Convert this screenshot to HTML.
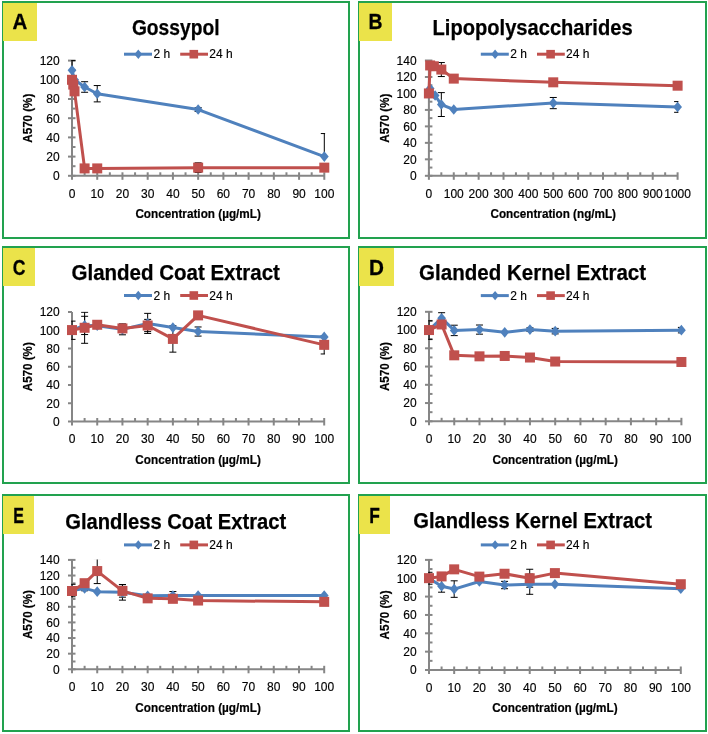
<!DOCTYPE html>
<html><head><meta charset="utf-8"><title>Figure</title>
<style>
html,body{margin:0;padding:0;background:#fff;}
body{width:708px;height:734px;overflow:hidden;}
svg{display:block;font-family:"Liberation Sans", sans-serif;will-change:transform;}
</style></head>
<body>
<svg width="708" height="734" viewBox="0 0 708 734">
<rect width="708" height="734" fill="#fff"/>
<rect x="3" y="2" width="346" height="236" fill="none" stroke="#22a24f" stroke-width="2"/>
<g stroke="#868686" stroke-width="2" fill="none"><path d="M72 60.6V175.8" /><path d="M72 175.8H324.3" /><path d="M68 175.8H75.5"/><path d="M68 156.6H75.5"/><path d="M68 137.4H75.5"/><path d="M68 118.2H75.5"/><path d="M68 99H75.5"/><path d="M68 79.8H75.5"/><path d="M68 60.6H75.5"/><path d="M72 166.2H75.5"/><path d="M72 147H75.5"/><path d="M72 127.8H75.5"/><path d="M72 108.6H75.5"/><path d="M72 89.4H75.5"/><path d="M72 70.2H75.5"/><path d="M72 172.3V179.8"/><path d="M97.23 172.3V179.8"/><path d="M122.46 172.3V179.8"/><path d="M147.69 172.3V179.8"/><path d="M172.92 172.3V179.8"/><path d="M198.15 172.3V179.8"/><path d="M223.38 172.3V179.8"/><path d="M248.61 172.3V179.8"/><path d="M273.84 172.3V179.8"/><path d="M299.07 172.3V179.8"/><path d="M324.3 172.3V179.8"/><path d="M84.61 172.3V175.8"/><path d="M109.84 172.3V175.8"/><path d="M135.07 172.3V175.8"/><path d="M160.31 172.3V175.8"/><path d="M185.54 172.3V175.8"/><path d="M210.77 172.3V175.8"/><path d="M236 172.3V175.8"/><path d="M261.23 172.3V175.8"/><path d="M286.46 172.3V175.8"/><path d="M311.69 172.3V175.8"/></g>
<g font-size="12" fill="#000" stroke="#000" stroke-width="0.15"><text x="59.7" y="180.1" text-anchor="end">0</text><text x="59.7" y="160.9" text-anchor="end">20</text><text x="59.7" y="141.7" text-anchor="end">40</text><text x="59.7" y="122.5" text-anchor="end">60</text><text x="59.7" y="103.3" text-anchor="end">80</text><text x="59.7" y="84.1" text-anchor="end">100</text><text x="59.7" y="64.9" text-anchor="end">120</text><text x="72" y="197.7" text-anchor="middle">0</text><text x="97.23" y="197.7" text-anchor="middle">10</text><text x="122.46" y="197.7" text-anchor="middle">20</text><text x="147.69" y="197.7" text-anchor="middle">30</text><text x="172.92" y="197.7" text-anchor="middle">40</text><text x="198.15" y="197.7" text-anchor="middle">50</text><text x="223.38" y="197.7" text-anchor="middle">60</text><text x="248.61" y="197.7" text-anchor="middle">70</text><text x="273.84" y="197.7" text-anchor="middle">80</text><text x="299.07" y="197.7" text-anchor="middle">90</text><text x="324.3" y="197.7" text-anchor="middle">100</text></g>
<text transform="translate(31.8 118.2) rotate(-90)" text-anchor="middle" font-weight="bold" font-size="12" stroke="#000" stroke-width="0.2" textLength="49" lengthAdjust="spacingAndGlyphs">A570 (%)</text>
<text x="198.15" y="218.2" text-anchor="middle" font-weight="bold" font-size="12.5" stroke="#000" stroke-width="0.2" textLength="125.5" lengthAdjust="spacingAndGlyphs">Concentration (µg/mL)</text>
<clipPath id="clipA"><rect x="71.2" y="60.1" width="253.9" height="115.7"/></clipPath>
<g stroke="#000" stroke-width="1" fill="none" clip-path="url(#clipA)"><path d="M72 60.6V79.8 M68.5 60.6H75.5 M68.5 79.8H75.5"/><path d="M84.61 81.72V92.28 M81.11 81.72H88.11 M81.11 92.28H88.11"/><path d="M97.23 85.56V101.88 M93.73 85.56H100.73 M93.73 101.88H100.73"/><path d="M198.15 107.64V111.48 M194.65 107.64H201.65 M194.65 111.48H201.65"/><path d="M324.3 133.56V156.6 M320.8 133.56H327.8"/><path d="M198.15 162.84V172.44 M194.65 162.84H201.65 M194.65 172.44H201.65"/></g>
<polyline points="72,70.2 74.52,79.8 84.61,87 97.23,93.72 198.15,109.56 324.3,156.6" fill="none" stroke="#4f81bd" stroke-width="3" stroke-linejoin="round"/>
<path d="M72 64.9L76.4 70.2L72 75.5L67.6 70.2Z" fill="#4f81bd"/>
<path d="M74.52 74.5L78.92 79.8L74.52 85.1L70.12 79.8Z" fill="#4f81bd"/>
<path d="M84.61 81.7L89.02 87L84.61 92.3L80.21 87Z" fill="#4f81bd"/>
<path d="M97.23 88.42L101.63 93.72L97.23 99.02L92.83 93.72Z" fill="#4f81bd"/>
<path d="M198.15 104.26L202.55 109.56L198.15 114.86L193.75 109.56Z" fill="#4f81bd"/>
<path d="M324.3 151.3L328.7 156.6L324.3 161.9L319.9 156.6Z" fill="#4f81bd"/>
<polyline points="72,79.8 73.26,84.6 74.52,91.32 84.61,168.41 97.23,168.41 198.15,167.64 324.3,167.64" fill="none" stroke="#c0504d" stroke-width="3" stroke-linejoin="round"/>
<rect x="67" y="74.8" width="10" height="10" fill="#c0504d"/>
<rect x="68.26" y="79.6" width="10" height="10" fill="#c0504d"/>
<rect x="69.52" y="86.32" width="10" height="10" fill="#c0504d"/>
<rect x="79.61" y="163.41" width="10" height="10" fill="#c0504d"/>
<rect x="92.23" y="163.41" width="10" height="10" fill="#c0504d"/>
<rect x="193.15" y="162.64" width="10" height="10" fill="#c0504d"/>
<rect x="319.3" y="162.64" width="10" height="10" fill="#c0504d"/>
<path d="M124 54.2H152" stroke="#4f81bd" stroke-width="3"/>
<path d="M138.3 49.5L142.2 54.2L138.3 58.9L134.4 54.2Z" fill="#4f81bd"/>
<text x="153.5" y="58.4" font-size="12" stroke="#000" stroke-width="0.15">2 h</text>
<path d="M180.2 54.2H208" stroke="#c0504d" stroke-width="3"/>
<rect x="189.5" y="49.9" width="8.6" height="8.6" fill="#c0504d"/>
<text x="209.3" y="58.4" font-size="12" stroke="#000" stroke-width="0.15">24 h</text>
<text x="175.7" y="34.6" text-anchor="middle" font-weight="bold" font-size="22" stroke="#000" stroke-width="0.25" textLength="87.6" lengthAdjust="spacingAndGlyphs">Gossypol</text>
<rect x="3" y="3" width="34" height="38" fill="#ebe34a"/>
<text transform="translate(20 29) scale(0.93 1)" text-anchor="middle" font-weight="bold" font-size="22" stroke="#000" stroke-width="0.3">A</text>
<rect x="359" y="2" width="347" height="236" fill="none" stroke="#22a24f" stroke-width="2"/>
<g stroke="#868686" stroke-width="2" fill="none"><path d="M428.9 60.5V175.8" /><path d="M428.9 175.8H677.6" /><path d="M424.9 175.8H432.4"/><path d="M424.9 159.33H432.4"/><path d="M424.9 142.86H432.4"/><path d="M424.9 126.39H432.4"/><path d="M424.9 109.91H432.4"/><path d="M424.9 93.44H432.4"/><path d="M424.9 76.97H432.4"/><path d="M424.9 60.5H432.4"/><path d="M428.9 167.56H432.4"/><path d="M428.9 151.09H432.4"/><path d="M428.9 134.62H432.4"/><path d="M428.9 118.15H432.4"/><path d="M428.9 101.68H432.4"/><path d="M428.9 85.21H432.4"/><path d="M428.9 68.74H432.4"/><path d="M428.9 172.3V179.8"/><path d="M453.77 172.3V179.8"/><path d="M478.64 172.3V179.8"/><path d="M503.51 172.3V179.8"/><path d="M528.38 172.3V179.8"/><path d="M553.25 172.3V179.8"/><path d="M578.12 172.3V179.8"/><path d="M602.99 172.3V179.8"/><path d="M627.86 172.3V179.8"/><path d="M652.73 172.3V179.8"/><path d="M677.6 172.3V179.8"/><path d="M441.33 172.3V175.8"/><path d="M466.2 172.3V175.8"/><path d="M491.07 172.3V175.8"/><path d="M515.94 172.3V175.8"/><path d="M540.82 172.3V175.8"/><path d="M565.68 172.3V175.8"/><path d="M590.56 172.3V175.8"/><path d="M615.42 172.3V175.8"/><path d="M640.3 172.3V175.8"/><path d="M665.16 172.3V175.8"/></g>
<g font-size="12" fill="#000" stroke="#000" stroke-width="0.15"><text x="416.6" y="180.1" text-anchor="end">0</text><text x="416.6" y="163.63" text-anchor="end">20</text><text x="416.6" y="147.16" text-anchor="end">40</text><text x="416.6" y="130.69" text-anchor="end">60</text><text x="416.6" y="114.21" text-anchor="end">80</text><text x="416.6" y="97.74" text-anchor="end">100</text><text x="416.6" y="81.27" text-anchor="end">120</text><text x="416.6" y="64.8" text-anchor="end">140</text><text x="428.9" y="197.7" text-anchor="middle">0</text><text x="453.77" y="197.7" text-anchor="middle">100</text><text x="478.64" y="197.7" text-anchor="middle">200</text><text x="503.51" y="197.7" text-anchor="middle">300</text><text x="528.38" y="197.7" text-anchor="middle">400</text><text x="553.25" y="197.7" text-anchor="middle">500</text><text x="578.12" y="197.7" text-anchor="middle">600</text><text x="602.99" y="197.7" text-anchor="middle">700</text><text x="627.86" y="197.7" text-anchor="middle">800</text><text x="652.73" y="197.7" text-anchor="middle">900</text><text x="677.6" y="197.7" text-anchor="middle">1000</text></g>
<text transform="translate(388.7 118.15) rotate(-90)" text-anchor="middle" font-weight="bold" font-size="12" stroke="#000" stroke-width="0.2" textLength="49" lengthAdjust="spacingAndGlyphs">A570 (%)</text>
<text x="553.25" y="218.2" text-anchor="middle" font-weight="bold" font-size="12.5" stroke="#000" stroke-width="0.2" textLength="125.5" lengthAdjust="spacingAndGlyphs">Concentration (ng/mL)</text>
<clipPath id="clipB"><rect x="428.1" y="60" width="250.3" height="115.8"/></clipPath>
<g stroke="#000" stroke-width="1" fill="none" clip-path="url(#clipB)"><path d="M441.33 92.62V116.5 M437.83 92.62H444.83 M437.83 116.5H444.83"/><path d="M553.25 97.48V108.68 M549.75 97.48H556.75 M549.75 108.68H556.75"/><path d="M677.6 101.6V112.3 M674.1 101.6H681.1 M674.1 112.3H681.1"/><path d="M441.33 62.56V76.56 M437.83 62.56H444.83 M437.83 76.56H444.83"/><path d="M553.25 79.85V84.8 M549.75 79.85H556.75 M549.75 84.8H556.75"/><path d="M677.6 82.41V89 M674.1 82.41H681.1 M674.1 89H681.1"/></g>
<polyline points="428.9,93.44 430.14,88.5 435.12,95.5 441.33,104.56 453.77,109.5 553.25,103.08 677.6,106.95" fill="none" stroke="#4f81bd" stroke-width="3" stroke-linejoin="round"/>
<path d="M428.9 88.14L433.3 93.44L428.9 98.74L424.5 93.44Z" fill="#4f81bd"/>
<path d="M430.14 83.2L434.54 88.5L430.14 93.8L425.74 88.5Z" fill="#4f81bd"/>
<path d="M435.12 90.2L439.52 95.5L435.12 100.8L430.72 95.5Z" fill="#4f81bd"/>
<path d="M441.33 99.26L445.73 104.56L441.33 109.86L436.94 104.56Z" fill="#4f81bd"/>
<path d="M453.77 104.2L458.17 109.5L453.77 114.8L449.37 109.5Z" fill="#4f81bd"/>
<path d="M553.25 97.78L557.65 103.08L553.25 108.38L548.85 103.08Z" fill="#4f81bd"/>
<path d="M677.6 101.65L682 106.95L677.6 112.25L673.2 106.95Z" fill="#4f81bd"/>
<polyline points="428.9,93.44 430.14,65.44 433.87,66.27 441.33,69.56 453.77,78.62 553.25,82.32 677.6,85.7" fill="none" stroke="#c0504d" stroke-width="3" stroke-linejoin="round"/>
<rect x="423.9" y="88.44" width="10" height="10" fill="#c0504d"/>
<rect x="425.14" y="60.44" width="10" height="10" fill="#c0504d"/>
<rect x="428.87" y="61.27" width="10" height="10" fill="#c0504d"/>
<rect x="436.33" y="64.56" width="10" height="10" fill="#c0504d"/>
<rect x="448.77" y="73.62" width="10" height="10" fill="#c0504d"/>
<rect x="548.25" y="77.32" width="10" height="10" fill="#c0504d"/>
<rect x="672.6" y="80.7" width="10" height="10" fill="#c0504d"/>
<path d="M480.8 54.2H508.8" stroke="#4f81bd" stroke-width="3"/>
<path d="M495.1 49.5L499 54.2L495.1 58.9L491.2 54.2Z" fill="#4f81bd"/>
<text x="510.3" y="58.4" font-size="12" stroke="#000" stroke-width="0.15">2 h</text>
<path d="M537 54.2H564.8" stroke="#c0504d" stroke-width="3"/>
<rect x="546.3" y="49.9" width="8.6" height="8.6" fill="#c0504d"/>
<text x="566.1" y="58.4" font-size="12" stroke="#000" stroke-width="0.15">24 h</text>
<text x="532.6" y="34.9" text-anchor="middle" font-weight="bold" font-size="22" stroke="#000" stroke-width="0.25" textLength="200" lengthAdjust="spacingAndGlyphs">Lipopolysaccharides</text>
<rect x="359" y="3" width="33" height="38" fill="#ebe34a"/>
<text transform="translate(375.5 29) scale(0.88 1)" text-anchor="middle" font-weight="bold" font-size="22" stroke="#000" stroke-width="0.3">B</text>
<rect x="3" y="247" width="346" height="236" fill="none" stroke="#22a24f" stroke-width="2"/>
<g stroke="#868686" stroke-width="2" fill="none"><path d="M72 312V421.5" /><path d="M72 421.5H324.2" /><path d="M68 421.5H72"/><path d="M68 403.25H72"/><path d="M68 385H72"/><path d="M68 366.75H72"/><path d="M68 348.5H72"/><path d="M68 330.25H72"/><path d="M68 312H72"/><path d="M72 418V425.5"/><path d="M97.22 418V425.5"/><path d="M122.44 418V425.5"/><path d="M147.66 418V425.5"/><path d="M172.88 418V425.5"/><path d="M198.1 418V425.5"/><path d="M223.32 418V425.5"/><path d="M248.54 418V425.5"/><path d="M273.76 418V425.5"/><path d="M298.98 418V425.5"/><path d="M324.2 418V425.5"/><path d="M84.61 418V421.5"/><path d="M109.83 418V421.5"/><path d="M135.05 418V421.5"/><path d="M160.27 418V421.5"/><path d="M185.49 418V421.5"/><path d="M210.71 418V421.5"/><path d="M235.93 418V421.5"/><path d="M261.15 418V421.5"/><path d="M286.37 418V421.5"/><path d="M311.59 418V421.5"/></g>
<g font-size="12" fill="#000" stroke="#000" stroke-width="0.15"><text x="59.7" y="425.8" text-anchor="end">0</text><text x="59.7" y="407.55" text-anchor="end">20</text><text x="59.7" y="389.3" text-anchor="end">40</text><text x="59.7" y="371.05" text-anchor="end">60</text><text x="59.7" y="352.8" text-anchor="end">80</text><text x="59.7" y="334.55" text-anchor="end">100</text><text x="59.7" y="316.3" text-anchor="end">120</text><text x="72" y="443.4" text-anchor="middle">0</text><text x="97.22" y="443.4" text-anchor="middle">10</text><text x="122.44" y="443.4" text-anchor="middle">20</text><text x="147.66" y="443.4" text-anchor="middle">30</text><text x="172.88" y="443.4" text-anchor="middle">40</text><text x="198.1" y="443.4" text-anchor="middle">50</text><text x="223.32" y="443.4" text-anchor="middle">60</text><text x="248.54" y="443.4" text-anchor="middle">70</text><text x="273.76" y="443.4" text-anchor="middle">80</text><text x="298.98" y="443.4" text-anchor="middle">90</text><text x="324.2" y="443.4" text-anchor="middle">100</text></g>
<text transform="translate(31.8 366.75) rotate(-90)" text-anchor="middle" font-weight="bold" font-size="12" stroke="#000" stroke-width="0.2" textLength="49" lengthAdjust="spacingAndGlyphs">A570 (%)</text>
<text x="198.1" y="463.9" text-anchor="middle" font-weight="bold" font-size="12.5" stroke="#000" stroke-width="0.2" textLength="125.5" lengthAdjust="spacingAndGlyphs">Concentration (µg/mL)</text>
<clipPath id="clipC"><rect x="71.2" y="311.5" width="253.8" height="110"/></clipPath>
<g stroke="#000" stroke-width="1" fill="none" clip-path="url(#clipC)"><path d="M72 321.12V339.38 M68.5 321.12H75.5 M68.5 339.38H75.5"/><path d="M84.61 316.29V334.54 M81.11 316.29H88.11 M81.11 334.54H88.11"/><path d="M122.44 323.86V334.81 M118.94 323.86H125.94 M118.94 334.81H125.94"/><path d="M147.66 313.37V333.44 M144.16 313.37H151.16 M144.16 333.44H151.16"/><path d="M198.1 326.97V336.09 M194.6 326.97H201.6 M194.6 336.09H201.6"/><path d="M84.61 312.27V343.3 M81.11 312.27H88.11 M81.11 343.3H88.11"/><path d="M147.66 319.39V331.62 M144.16 319.39H151.16 M144.16 331.62H151.16"/><path d="M172.88 325.69V352.15 M169.38 325.69H176.38 M169.38 352.15H176.38"/><path d="M324.2 335.73V353.98 M320.7 335.73H327.7 M320.7 353.98H327.7"/></g>
<polyline points="72,330.25 84.61,325.41 97.22,325.69 122.44,329.34 147.66,323.41 172.88,327.6 198.1,331.53 324.2,336.91" fill="none" stroke="#4f81bd" stroke-width="3" stroke-linejoin="round"/>
<path d="M72 324.95L76.4 330.25L72 335.55L67.6 330.25Z" fill="#4f81bd"/>
<path d="M84.61 320.11L89.01 325.41L84.61 330.71L80.21 325.41Z" fill="#4f81bd"/>
<path d="M97.22 320.39L101.62 325.69L97.22 330.99L92.82 325.69Z" fill="#4f81bd"/>
<path d="M122.44 324.04L126.84 329.34L122.44 334.64L118.04 329.34Z" fill="#4f81bd"/>
<path d="M147.66 318.11L152.06 323.41L147.66 328.71L143.26 323.41Z" fill="#4f81bd"/>
<path d="M172.88 322.3L177.28 327.6L172.88 332.9L168.48 327.6Z" fill="#4f81bd"/>
<path d="M198.1 326.23L202.5 331.53L198.1 336.83L193.7 331.53Z" fill="#4f81bd"/>
<path d="M324.2 331.61L328.6 336.91L324.2 342.21L319.8 336.91Z" fill="#4f81bd"/>
<polyline points="72,330.07 84.61,327.79 97.22,324.77 122.44,328.43 147.66,325.5 172.88,338.92 198.1,315.38 324.2,344.85" fill="none" stroke="#c0504d" stroke-width="3" stroke-linejoin="round"/>
<rect x="67" y="325.07" width="10" height="10" fill="#c0504d"/>
<rect x="79.61" y="322.79" width="10" height="10" fill="#c0504d"/>
<rect x="92.22" y="319.77" width="10" height="10" fill="#c0504d"/>
<rect x="117.44" y="323.43" width="10" height="10" fill="#c0504d"/>
<rect x="142.66" y="320.5" width="10" height="10" fill="#c0504d"/>
<rect x="167.88" y="333.92" width="10" height="10" fill="#c0504d"/>
<rect x="193.1" y="310.38" width="10" height="10" fill="#c0504d"/>
<rect x="319.2" y="339.85" width="10" height="10" fill="#c0504d"/>
<path d="M124 295.5H152" stroke="#4f81bd" stroke-width="3"/>
<path d="M138.3 290.8L142.2 295.5L138.3 300.2L134.4 295.5Z" fill="#4f81bd"/>
<text x="153.5" y="299.7" font-size="12" stroke="#000" stroke-width="0.15">2 h</text>
<path d="M180.2 295.5H208" stroke="#c0504d" stroke-width="3"/>
<rect x="189.5" y="291.2" width="8.6" height="8.6" fill="#c0504d"/>
<text x="209.3" y="299.7" font-size="12" stroke="#000" stroke-width="0.15">24 h</text>
<text x="175.7" y="279.8" text-anchor="middle" font-weight="bold" font-size="22" stroke="#000" stroke-width="0.25" textLength="208.4" lengthAdjust="spacingAndGlyphs">Glanded Coat Extract</text>
<rect x="3" y="248" width="32" height="38" fill="#ebe34a"/>
<text transform="translate(19 274.5) scale(0.8 1)" text-anchor="middle" font-weight="bold" font-size="22" stroke="#000" stroke-width="0.3">C</text>
<rect x="359" y="247" width="347" height="236" fill="none" stroke="#22a24f" stroke-width="2"/>
<g stroke="#868686" stroke-width="2" fill="none"><path d="M429 311.8V421.3" /><path d="M429 421.3H681.4" /><path d="M425 421.3H432.5"/><path d="M425 403.05H432.5"/><path d="M425 384.8H432.5"/><path d="M425 366.55H432.5"/><path d="M425 348.3H432.5"/><path d="M425 330.05H432.5"/><path d="M425 311.8H432.5"/><path d="M429 412.18H432.5"/><path d="M429 393.93H432.5"/><path d="M429 375.68H432.5"/><path d="M429 357.43H432.5"/><path d="M429 339.18H432.5"/><path d="M429 320.93H432.5"/><path d="M429 417.8V425.3"/><path d="M454.24 417.8V425.3"/><path d="M479.48 417.8V425.3"/><path d="M504.72 417.8V425.3"/><path d="M529.96 417.8V425.3"/><path d="M555.2 417.8V425.3"/><path d="M580.44 417.8V425.3"/><path d="M605.68 417.8V425.3"/><path d="M630.92 417.8V425.3"/><path d="M656.16 417.8V425.3"/><path d="M681.4 417.8V425.3"/><path d="M441.62 417.8V421.3"/><path d="M466.86 417.8V421.3"/><path d="M492.1 417.8V421.3"/><path d="M517.34 417.8V421.3"/><path d="M542.58 417.8V421.3"/><path d="M567.82 417.8V421.3"/><path d="M593.06 417.8V421.3"/><path d="M618.3 417.8V421.3"/><path d="M643.54 417.8V421.3"/><path d="M668.78 417.8V421.3"/></g>
<g font-size="12" fill="#000" stroke="#000" stroke-width="0.15"><text x="416.7" y="425.6" text-anchor="end">0</text><text x="416.7" y="407.35" text-anchor="end">20</text><text x="416.7" y="389.1" text-anchor="end">40</text><text x="416.7" y="370.85" text-anchor="end">60</text><text x="416.7" y="352.6" text-anchor="end">80</text><text x="416.7" y="334.35" text-anchor="end">100</text><text x="416.7" y="316.1" text-anchor="end">120</text><text x="429" y="443.2" text-anchor="middle">0</text><text x="454.24" y="443.2" text-anchor="middle">10</text><text x="479.48" y="443.2" text-anchor="middle">20</text><text x="504.72" y="443.2" text-anchor="middle">30</text><text x="529.96" y="443.2" text-anchor="middle">40</text><text x="555.2" y="443.2" text-anchor="middle">50</text><text x="580.44" y="443.2" text-anchor="middle">60</text><text x="605.68" y="443.2" text-anchor="middle">70</text><text x="630.92" y="443.2" text-anchor="middle">80</text><text x="656.16" y="443.2" text-anchor="middle">90</text><text x="681.4" y="443.2" text-anchor="middle">100</text></g>
<text transform="translate(388.8 366.55) rotate(-90)" text-anchor="middle" font-weight="bold" font-size="12" stroke="#000" stroke-width="0.2" textLength="49" lengthAdjust="spacingAndGlyphs">A570 (%)</text>
<text x="555.2" y="463.7" text-anchor="middle" font-weight="bold" font-size="12.5" stroke="#000" stroke-width="0.2" textLength="125.5" lengthAdjust="spacingAndGlyphs">Concentration (µg/mL)</text>
<clipPath id="clipD"><rect x="428.2" y="311.3" width="254" height="110"/></clipPath>
<g stroke="#000" stroke-width="1" fill="none" clip-path="url(#clipD)"><path d="M429 320.74V339.36 M425.5 320.74H432.5 M425.5 339.36H432.5"/><path d="M441.62 312.71V323.66 M438.12 312.71H445.12 M438.12 323.66H445.12"/><path d="M454.24 325.21V335.62 M450.74 325.21H457.74 M450.74 335.62H457.74"/><path d="M479.48 325.03V334.16 M475.98 325.03H482.98 M475.98 334.16H482.98"/><path d="M529.96 327.77V331.42 M526.46 327.77H533.46 M526.46 331.42H533.46"/><path d="M555.2 328.41V333.88 M551.7 328.41H558.7 M551.7 333.88H558.7"/><path d="M681.4 327.4V332.88 M677.9 327.4H684.9 M677.9 332.88H684.9"/></g>
<polyline points="429,330.05 441.62,318.19 454.24,330.42 479.48,329.59 504.72,332.33 529.96,329.59 555.2,331.14 681.4,330.14" fill="none" stroke="#4f81bd" stroke-width="3" stroke-linejoin="round"/>
<path d="M429 324.75L433.4 330.05L429 335.35L424.6 330.05Z" fill="#4f81bd"/>
<path d="M441.62 312.89L446.02 318.19L441.62 323.49L437.22 318.19Z" fill="#4f81bd"/>
<path d="M454.24 325.12L458.64 330.42L454.24 335.72L449.84 330.42Z" fill="#4f81bd"/>
<path d="M479.48 324.29L483.88 329.59L479.48 334.89L475.08 329.59Z" fill="#4f81bd"/>
<path d="M504.72 327.03L509.12 332.33L504.72 337.63L500.32 332.33Z" fill="#4f81bd"/>
<path d="M529.96 324.29L534.36 329.59L529.96 334.89L525.56 329.59Z" fill="#4f81bd"/>
<path d="M555.2 325.84L559.6 331.14L555.2 336.44L550.8 331.14Z" fill="#4f81bd"/>
<path d="M681.4 324.84L685.8 330.14L681.4 335.44L677 330.14Z" fill="#4f81bd"/>
<polyline points="429,330.05 441.62,324.48 454.24,355.33 479.48,356.33 504.72,355.97 529.96,357.52 555.2,361.53 681.4,361.99" fill="none" stroke="#c0504d" stroke-width="3" stroke-linejoin="round"/>
<rect x="424" y="325.05" width="10" height="10" fill="#c0504d"/>
<rect x="436.62" y="319.48" width="10" height="10" fill="#c0504d"/>
<rect x="449.24" y="350.33" width="10" height="10" fill="#c0504d"/>
<rect x="474.48" y="351.33" width="10" height="10" fill="#c0504d"/>
<rect x="499.72" y="350.97" width="10" height="10" fill="#c0504d"/>
<rect x="524.96" y="352.52" width="10" height="10" fill="#c0504d"/>
<rect x="550.2" y="356.53" width="10" height="10" fill="#c0504d"/>
<rect x="676.4" y="356.99" width="10" height="10" fill="#c0504d"/>
<path d="M480.8 295.6H508.8" stroke="#4f81bd" stroke-width="3"/>
<path d="M495.1 290.9L499 295.6L495.1 300.3L491.2 295.6Z" fill="#4f81bd"/>
<text x="510.3" y="299.8" font-size="12" stroke="#000" stroke-width="0.15">2 h</text>
<path d="M537 295.6H564.8" stroke="#c0504d" stroke-width="3"/>
<rect x="546.3" y="291.3" width="8.6" height="8.6" fill="#c0504d"/>
<text x="566.1" y="299.8" font-size="12" stroke="#000" stroke-width="0.15">24 h</text>
<text x="532.6" y="279.7" text-anchor="middle" font-weight="bold" font-size="22" stroke="#000" stroke-width="0.25" textLength="227" lengthAdjust="spacingAndGlyphs">Glanded Kernel Extract</text>
<rect x="359" y="248" width="35" height="38" fill="#ebe34a"/>
<text transform="translate(376.5 274.5) scale(0.94 1)" text-anchor="middle" font-weight="bold" font-size="22" stroke="#000" stroke-width="0.3">D</text>
<rect x="3" y="495" width="346" height="236" fill="none" stroke="#22a24f" stroke-width="2"/>
<g stroke="#868686" stroke-width="2" fill="none"><path d="M72 559.9V669.3" /><path d="M72 669.3H324.2" /><path d="M68 669.3H75.5"/><path d="M68 653.67H75.5"/><path d="M68 638.04H75.5"/><path d="M68 622.41H75.5"/><path d="M68 606.79H75.5"/><path d="M68 591.16H75.5"/><path d="M68 575.53H75.5"/><path d="M68 559.9H75.5"/><path d="M72 661.49H75.5"/><path d="M72 645.86H75.5"/><path d="M72 630.23H75.5"/><path d="M72 614.6H75.5"/><path d="M72 598.97H75.5"/><path d="M72 583.34H75.5"/><path d="M72 567.71H75.5"/><path d="M72 665.8V673.3"/><path d="M97.22 665.8V673.3"/><path d="M122.44 665.8V673.3"/><path d="M147.66 665.8V673.3"/><path d="M172.88 665.8V673.3"/><path d="M198.1 665.8V673.3"/><path d="M223.32 665.8V673.3"/><path d="M248.54 665.8V673.3"/><path d="M273.76 665.8V673.3"/><path d="M298.98 665.8V673.3"/><path d="M324.2 665.8V673.3"/><path d="M84.61 665.8V669.3"/><path d="M109.83 665.8V669.3"/><path d="M135.05 665.8V669.3"/><path d="M160.27 665.8V669.3"/><path d="M185.49 665.8V669.3"/><path d="M210.71 665.8V669.3"/><path d="M235.93 665.8V669.3"/><path d="M261.15 665.8V669.3"/><path d="M286.37 665.8V669.3"/><path d="M311.59 665.8V669.3"/></g>
<g font-size="12" fill="#000" stroke="#000" stroke-width="0.15"><text x="59.7" y="673.6" text-anchor="end">0</text><text x="59.7" y="657.97" text-anchor="end">20</text><text x="59.7" y="642.34" text-anchor="end">40</text><text x="59.7" y="626.71" text-anchor="end">60</text><text x="59.7" y="611.09" text-anchor="end">80</text><text x="59.7" y="595.46" text-anchor="end">100</text><text x="59.7" y="579.83" text-anchor="end">120</text><text x="59.7" y="564.2" text-anchor="end">140</text><text x="72" y="691.2" text-anchor="middle">0</text><text x="97.22" y="691.2" text-anchor="middle">10</text><text x="122.44" y="691.2" text-anchor="middle">20</text><text x="147.66" y="691.2" text-anchor="middle">30</text><text x="172.88" y="691.2" text-anchor="middle">40</text><text x="198.1" y="691.2" text-anchor="middle">50</text><text x="223.32" y="691.2" text-anchor="middle">60</text><text x="248.54" y="691.2" text-anchor="middle">70</text><text x="273.76" y="691.2" text-anchor="middle">80</text><text x="298.98" y="691.2" text-anchor="middle">90</text><text x="324.2" y="691.2" text-anchor="middle">100</text></g>
<text transform="translate(31.8 614.6) rotate(-90)" text-anchor="middle" font-weight="bold" font-size="12" stroke="#000" stroke-width="0.2" textLength="49" lengthAdjust="spacingAndGlyphs">A570 (%)</text>
<text x="198.1" y="711.7" text-anchor="middle" font-weight="bold" font-size="12.5" stroke="#000" stroke-width="0.2" textLength="125.5" lengthAdjust="spacingAndGlyphs">Concentration (µg/mL)</text>
<clipPath id="clipE"><rect x="71.2" y="559.4" width="253.8" height="109.9"/></clipPath>
<g stroke="#000" stroke-width="1" fill="none" clip-path="url(#clipE)"><path d="M72 584.28V596.78 M68.5 584.28H75.5 M68.5 596.78H75.5"/><path d="M84.61 586.08V590.77 M81.11 586.08H88.11 M81.11 590.77H88.11"/><path d="M122.44 584.51V600.14 M118.94 584.51H125.94 M118.94 600.14H125.94"/><path d="M172.88 591.55V599.36 M169.38 591.55H176.38 M169.38 599.36H176.38"/><path d="M97.22 558.57V583.58 M93.72 558.57H100.72 M93.72 583.58H100.72"/><path d="M122.44 584.67V597.17 M118.94 584.67H125.94 M118.94 597.17H125.94"/></g>
<polyline points="72,590.53 84.61,588.42 97.22,591.63 122.44,592.33 147.66,595.85 172.88,595.45 198.1,595.45 324.2,595.45" fill="none" stroke="#4f81bd" stroke-width="3" stroke-linejoin="round"/>
<path d="M72 585.23L76.4 590.53L72 595.83L67.6 590.53Z" fill="#4f81bd"/>
<path d="M84.61 583.12L89.01 588.42L84.61 593.72L80.21 588.42Z" fill="#4f81bd"/>
<path d="M97.22 586.33L101.62 591.63L97.22 596.93L92.82 591.63Z" fill="#4f81bd"/>
<path d="M122.44 587.03L126.84 592.33L122.44 597.63L118.04 592.33Z" fill="#4f81bd"/>
<path d="M147.66 590.55L152.06 595.85L147.66 601.15L143.26 595.85Z" fill="#4f81bd"/>
<path d="M172.88 590.15L177.28 595.45L172.88 600.75L168.48 595.45Z" fill="#4f81bd"/>
<path d="M198.1 590.15L202.5 595.45L198.1 600.75L193.7 595.45Z" fill="#4f81bd"/>
<path d="M324.2 590.15L328.6 595.45L324.2 600.75L319.8 595.45Z" fill="#4f81bd"/>
<polyline points="72,591 84.61,583.19 97.22,571.07 122.44,590.92 147.66,598.35 172.88,598.82 198.1,600.53 324.2,601.86" fill="none" stroke="#c0504d" stroke-width="3" stroke-linejoin="round"/>
<rect x="67" y="586" width="10" height="10" fill="#c0504d"/>
<rect x="79.61" y="578.19" width="10" height="10" fill="#c0504d"/>
<rect x="92.22" y="566.07" width="10" height="10" fill="#c0504d"/>
<rect x="117.44" y="585.92" width="10" height="10" fill="#c0504d"/>
<rect x="142.66" y="593.35" width="10" height="10" fill="#c0504d"/>
<rect x="167.88" y="593.82" width="10" height="10" fill="#c0504d"/>
<rect x="193.1" y="595.53" width="10" height="10" fill="#c0504d"/>
<rect x="319.2" y="596.86" width="10" height="10" fill="#c0504d"/>
<path d="M124 544.9H152" stroke="#4f81bd" stroke-width="3"/>
<path d="M138.3 540.2L142.2 544.9L138.3 549.6L134.4 544.9Z" fill="#4f81bd"/>
<text x="153.5" y="549.1" font-size="12" stroke="#000" stroke-width="0.15">2 h</text>
<path d="M180.2 544.9H208" stroke="#c0504d" stroke-width="3"/>
<rect x="189.5" y="540.6" width="8.6" height="8.6" fill="#c0504d"/>
<text x="209.3" y="549.1" font-size="12" stroke="#000" stroke-width="0.15">24 h</text>
<text x="175.7" y="529" text-anchor="middle" font-weight="bold" font-size="22" stroke="#000" stroke-width="0.25" textLength="221" lengthAdjust="spacingAndGlyphs">Glandless Coat Extract</text>
<rect x="3" y="496" width="31" height="38" fill="#ebe34a"/>
<text transform="translate(18.5 522.5) scale(0.73 1)" text-anchor="middle" font-weight="bold" font-size="22" stroke="#000" stroke-width="0.3">E</text>
<rect x="359" y="495" width="347" height="236" fill="none" stroke="#22a24f" stroke-width="2"/>
<g stroke="#868686" stroke-width="2" fill="none"><path d="M429 559.9V670" /><path d="M429 670H680.8" /><path d="M425 670H432.5"/><path d="M425 651.65H432.5"/><path d="M425 633.3H432.5"/><path d="M425 614.95H432.5"/><path d="M425 596.6H432.5"/><path d="M425 578.25H432.5"/><path d="M425 559.9H432.5"/><path d="M429 660.83H432.5"/><path d="M429 642.48H432.5"/><path d="M429 624.12H432.5"/><path d="M429 605.77H432.5"/><path d="M429 587.42H432.5"/><path d="M429 569.07H432.5"/><path d="M429 666.5V674"/><path d="M454.18 666.5V674"/><path d="M479.36 666.5V674"/><path d="M504.54 666.5V674"/><path d="M529.72 666.5V674"/><path d="M554.9 666.5V674"/><path d="M580.08 666.5V674"/><path d="M605.26 666.5V674"/><path d="M630.44 666.5V674"/><path d="M655.62 666.5V674"/><path d="M680.8 666.5V674"/><path d="M441.59 666.5V670"/><path d="M466.77 666.5V670"/><path d="M491.95 666.5V670"/><path d="M517.13 666.5V670"/><path d="M542.31 666.5V670"/><path d="M567.49 666.5V670"/><path d="M592.67 666.5V670"/><path d="M617.85 666.5V670"/><path d="M643.03 666.5V670"/><path d="M668.21 666.5V670"/></g>
<g font-size="12" fill="#000" stroke="#000" stroke-width="0.15"><text x="416.7" y="674.3" text-anchor="end">0</text><text x="416.7" y="655.95" text-anchor="end">20</text><text x="416.7" y="637.6" text-anchor="end">40</text><text x="416.7" y="619.25" text-anchor="end">60</text><text x="416.7" y="600.9" text-anchor="end">80</text><text x="416.7" y="582.55" text-anchor="end">100</text><text x="416.7" y="564.2" text-anchor="end">120</text><text x="429" y="691.9" text-anchor="middle">0</text><text x="454.18" y="691.9" text-anchor="middle">10</text><text x="479.36" y="691.9" text-anchor="middle">20</text><text x="504.54" y="691.9" text-anchor="middle">30</text><text x="529.72" y="691.9" text-anchor="middle">40</text><text x="554.9" y="691.9" text-anchor="middle">50</text><text x="580.08" y="691.9" text-anchor="middle">60</text><text x="605.26" y="691.9" text-anchor="middle">70</text><text x="630.44" y="691.9" text-anchor="middle">80</text><text x="655.62" y="691.9" text-anchor="middle">90</text><text x="680.8" y="691.9" text-anchor="middle">100</text></g>
<text transform="translate(388.8 614.95) rotate(-90)" text-anchor="middle" font-weight="bold" font-size="12" stroke="#000" stroke-width="0.2" textLength="49" lengthAdjust="spacingAndGlyphs">A570 (%)</text>
<text x="554.9" y="712.4" text-anchor="middle" font-weight="bold" font-size="12.5" stroke="#000" stroke-width="0.2" textLength="125.5" lengthAdjust="spacingAndGlyphs">Concentration (µg/mL)</text>
<clipPath id="clipF"><rect x="428.2" y="559.4" width="253.4" height="110.6"/></clipPath>
<g stroke="#000" stroke-width="1" fill="none" clip-path="url(#clipF)"><path d="M429 572.29V584.21 M425.5 572.29H432.5 M425.5 584.21H432.5"/><path d="M441.59 580.27V592.2 M438.09 580.27H445.09 M438.09 592.2H445.09"/><path d="M454.18 580.82V597.33 M450.68 580.82H457.68 M450.68 597.33H457.68"/><path d="M504.54 581.37V588.71 M501.04 581.37H508.04 M501.04 588.71H508.04"/><path d="M529.72 574.12V594.31 M526.22 574.12H533.22 M526.22 594.31H533.22"/><path d="M529.72 569.26V587.24 M526.22 569.26H533.22 M526.22 587.24H533.22"/></g>
<polyline points="429,578.25 441.59,586.23 454.18,589.08 479.36,581.46 504.54,585.04 529.72,584.21 554.9,584.21 680.8,588.71" fill="none" stroke="#4f81bd" stroke-width="3" stroke-linejoin="round"/>
<path d="M429 572.95L433.4 578.25L429 583.55L424.6 578.25Z" fill="#4f81bd"/>
<path d="M441.59 580.93L445.99 586.23L441.59 591.53L437.19 586.23Z" fill="#4f81bd"/>
<path d="M454.18 583.78L458.58 589.08L454.18 594.38L449.78 589.08Z" fill="#4f81bd"/>
<path d="M479.36 576.16L483.76 581.46L479.36 586.76L474.96 581.46Z" fill="#4f81bd"/>
<path d="M504.54 579.74L508.94 585.04L504.54 590.34L500.14 585.04Z" fill="#4f81bd"/>
<path d="M529.72 578.91L534.12 584.21L529.72 589.51L525.32 584.21Z" fill="#4f81bd"/>
<path d="M554.9 578.91L559.3 584.21L554.9 589.51L550.5 584.21Z" fill="#4f81bd"/>
<path d="M680.8 583.41L685.2 588.71L680.8 594.01L676.4 588.71Z" fill="#4f81bd"/>
<polyline points="429,578.16 441.59,576.41 454.18,569.35 479.36,576.6 504.54,573.75 529.72,578.25 554.9,573.11 680.8,584.21" fill="none" stroke="#c0504d" stroke-width="3" stroke-linejoin="round"/>
<rect x="424" y="573.16" width="10" height="10" fill="#c0504d"/>
<rect x="436.59" y="571.41" width="10" height="10" fill="#c0504d"/>
<rect x="449.18" y="564.35" width="10" height="10" fill="#c0504d"/>
<rect x="474.36" y="571.6" width="10" height="10" fill="#c0504d"/>
<rect x="499.54" y="568.75" width="10" height="10" fill="#c0504d"/>
<rect x="524.72" y="573.25" width="10" height="10" fill="#c0504d"/>
<rect x="549.9" y="568.11" width="10" height="10" fill="#c0504d"/>
<rect x="675.8" y="579.21" width="10" height="10" fill="#c0504d"/>
<path d="M480.8 544.9H508.8" stroke="#4f81bd" stroke-width="3"/>
<path d="M495.1 540.2L499 544.9L495.1 549.6L491.2 544.9Z" fill="#4f81bd"/>
<text x="510.3" y="549.1" font-size="12" stroke="#000" stroke-width="0.15">2 h</text>
<path d="M537 544.9H564.8" stroke="#c0504d" stroke-width="3"/>
<rect x="546.3" y="540.6" width="8.6" height="8.6" fill="#c0504d"/>
<text x="566.1" y="549.1" font-size="12" stroke="#000" stroke-width="0.15">24 h</text>
<text x="532.6" y="528.4" text-anchor="middle" font-weight="bold" font-size="22" stroke="#000" stroke-width="0.25" textLength="238.6" lengthAdjust="spacingAndGlyphs">Glandless Kernel Extract</text>
<rect x="359" y="496" width="31" height="38" fill="#ebe34a"/>
<text transform="translate(374.5 522.5) scale(0.79 1)" text-anchor="middle" font-weight="bold" font-size="22" stroke="#000" stroke-width="0.3">F</text>
</svg>
</body></html>
